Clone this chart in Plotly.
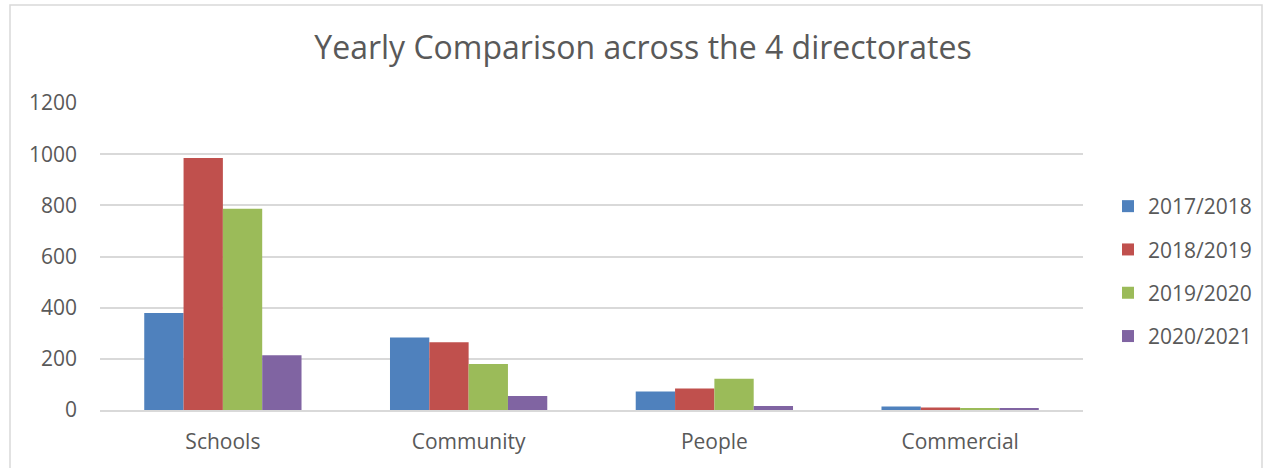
import plotly.graph_objects as go

categories = ["Schools", "Community", "People", "Commercial"]
series_names = ["2017/2018", "2018/2019", "2019/2020", "2020/2021"]
v_2017_2018 = [379, 283, 72, 14]
v_2018_2019 = [985, 265, 84, 10]
v_2019_2020 = [787, 180, 122, 7]
v_2020_2021 = [214, 55, 16, 4]
y_ticks = [0, 200, 400, 600, 800, 1000, 1200]

series_values = [v_2017_2018, v_2018_2019, v_2019_2020, v_2020_2021]
colors = ["#4F81BD", "#C0504D", "#9BBB59", "#8064A2"]

W, H = 1267, 468
L, R, T, B = 100, 184, 103, 58
pw = W - L - R
ph = H - T - B

fig = go.Figure()
for name, vals, c in zip(series_names, series_values, colors):
    fig.add_trace(go.Bar(
        x=categories, y=vals, name=name, legendgroup=name,
        marker=dict(color=c, line=dict(width=0)),
    ))

font_family = "Open Sans"
fig.update_layout(
    width=W, height=H,
    margin=dict(l=L, r=R, t=T, b=B, pad=0, autoexpand=False),
    paper_bgcolor="white", plot_bgcolor="white",
    barmode="group", bargap=0.36, bargroupgap=0,
    font=dict(family=font_family, color="#595959", size=20),
    title=dict(
        text="Yearly Comparison across the 4 directorates",
        x=643 / W, xref="container", xanchor="center",
        y=1 - 48 / H, yref="container", yanchor="middle",
        font=dict(family=font_family, size=32, color="#595959"),
    ),
    legend=dict(
        x=(1108 - L) / pw, xanchor="left",
        y=(410 - 186) / ph, yanchor="top",
        traceorder="grouped", tracegroupgap=13,
        font=dict(family=font_family, size=21, color="#595959"),
        itemwidth=30, bgcolor="rgba(0,0,0,0)",
    ),
    xaxis=dict(
        showgrid=False, showline=True, linecolor="#D9D9D9", linewidth=1.5,
        ticks="", ticklabelstandoff=12,
        tickfont=dict(family=font_family, size=21, color="#595959"),
    ),
    yaxis=dict(
        range=[0, 1200], tickvals=y_ticks, ticktext=[str(v) for v in y_ticks],
        showgrid=True, gridcolor="#D9D9D9", gridwidth=1.5,
        zeroline=False, showline=False, ticks="", ticklabelstandoff=22,
        tickfont=dict(family=font_family, size=21, color="#595959"),
    ),
    shapes=[dict(
        type="rect", xref="paper", yref="paper",
        x0=(10 - L) / pw, x1=(1262 - L) / pw,
        y0=(410 - 480) / ph, y1=(410 - 5) / ph,
        line=dict(color="#D9D9D9", width=1.5), fillcolor="rgba(0,0,0,0)",
        layer="below",
    )],
)

fig.write_html(
    "out.html",
    config={"displayModeBar": False},
    post_script="document.body.style.margin='0';document.body.style.overflow='hidden';",
)
